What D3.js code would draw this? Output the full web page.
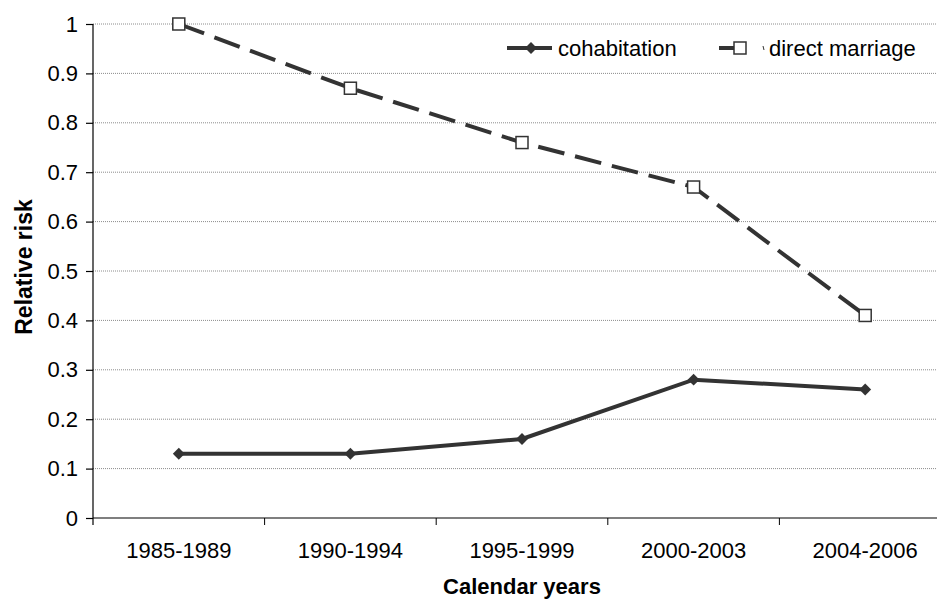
<!DOCTYPE html>
<html>
<head>
<meta charset="utf-8">
<script src="https://cdn.jsdelivr.net/npm/d3@7"></script>
<style>
  body { margin: 0; background: #fff; }
  text { font-family: "Liberation Sans", Arial, sans-serif; fill: #000; }
</style>
</head>
<body>
<script>
// data
const categories = ['1985-1989', '1990-1994', '1995-1999', '2000-2003', '2004-2006'];
const cohabitation = [0.13, 0.13, 0.16, 0.28, 0.26];
const directMarriage = [1, 0.87, 0.76, 0.67, 0.41];
const yTicks = [0, 0.1, 0.2, 0.3, 0.4, 0.5, 0.6, 0.7, 0.8, 0.9, 1];

const width = 937, height = 600;
const svg = d3.select('body').append('svg')
    .attr('width', width)
    .attr('height', height);

// plot area runs past the right edge of the picture, as in the reference
const plotLeft = 93, plotTop = 24, plotBottom = 518, plotRight = 951;

const x = d3.scaleBand().domain(categories).range([plotLeft, plotRight]);
const y = d3.scaleLinear().domain([0, 1]).range([plotBottom, plotTop]);
const cx = (d) => x(d) + x.bandwidth() / 2;

// gridlines
svg.append('g').selectAll('line').data(yTicks.filter(d => d > 0)).enter()
    .append('line')
    .attr('x1', plotLeft).attr('x2', plotRight)
    .attr('y1', d => y(d)).attr('y2', d => y(d))
    .attr('stroke', '#8c8c8c')
    .attr('stroke-width', 1)
    .attr('stroke-dasharray', '1,1');

// y axis
const yAxis = svg.append('g')
    .attr('transform', `translate(${plotLeft},0)`)
    .call(d3.axisLeft(y).tickValues(yTicks).tickFormat(d3.format('~g')).tickSize(7).tickPadding(8));
yAxis.select('.domain').attr('d', `M0,${plotTop}V${plotBottom + 7}`);

// x axis
const xAxis = svg.append('g')
    .attr('transform', `translate(0,${plotBottom})`)
    .call(d3.axisBottom(x).tickSize(0).tickPadding(24));
xAxis.select('.domain').attr('d', `M${plotLeft},0H${plotRight}`);
xAxis.selectAll('.bound').data(d3.range(1, categories.length)).enter()
    .append('line').attr('class', 'bound')
    .attr('x1', i => plotLeft + i * x.step()).attr('x2', i => plotLeft + i * x.step())
    .attr('y1', 0).attr('y2', 7)
    .attr('stroke', '#000');

svg.selectAll('.domain, .tick line').attr('stroke', '#000').attr('stroke-width', 1.2);
svg.selectAll('.tick text').attr('font-size', 22).attr('fill', '#000')
    .attr('font-family', '"Liberation Sans", Arial, sans-serif');

// axis titles
svg.append('text')
    .attr('x', cx(categories[2])).attr('y', 594)
    .attr('text-anchor', 'middle')
    .attr('font-size', 22).attr('font-weight', 'bold')
    .text('Calendar years');
svg.append('text')
    .attr('transform', `translate(32,${(plotTop + plotBottom) / 2 - 4}) rotate(-90)`)
    .attr('text-anchor', 'middle')
    .attr('font-size', 23).attr('font-weight', 'bold')
    .text('Relative risk');

// lines
const line = d3.line().x((d, i) => cx(categories[i])).y(d => y(d));
svg.append('path').datum(directMarriage)
    .attr('d', line).attr('fill', 'none')
    .attr('stroke', '#333').attr('stroke-width', 4)
    .attr('stroke-dasharray', '27,11');
svg.append('path').datum(cohabitation)
    .attr('d', line).attr('fill', 'none')
    .attr('stroke', '#333').attr('stroke-width', 4);

const diamond = d3.symbol().type(d3.symbolDiamond2).size(90);
svg.append('g').selectAll('path').data(cohabitation).enter()
    .append('path')
    .attr('d', diamond)
    .attr('transform', (d, i) => `translate(${cx(categories[i])},${y(d)})`)
    .attr('fill', '#333');
svg.append('g').selectAll('rect').data(directMarriage).enter()
    .append('rect')
    .attr('x', (d, i) => cx(categories[i]) - 6).attr('y', d => y(d) - 6)
    .attr('width', 12).attr('height', 12)
    .attr('fill', '#fff').attr('stroke', '#333').attr('stroke-width', 1.5);

// legend
const ly = 48;
const lg = svg.append('g');
lg.append('line').attr('x1', 507).attr('x2', 552).attr('y1', ly).attr('y2', ly)
    .attr('stroke', '#333').attr('stroke-width', 4);
lg.append('path').attr('d', diamond).attr('transform', `translate(531,${ly})`).attr('fill', '#333');
lg.append('text').attr('x', 558).attr('y', ly + 8).attr('font-size', 22).text('cohabitation');

lg.append('line').attr('x1', 719).attr('x2', 735).attr('y1', ly).attr('y2', ly)
    .attr('stroke', '#333').attr('stroke-width', 4);
lg.append('line').attr('x1', 763).attr('x2', 764).attr('y1', ly - 2).attr('y2', ly + 2)
    .attr('stroke', '#333').attr('stroke-width', 1);
lg.append('rect').attr('x', 734).attr('y', ly - 6).attr('width', 12).attr('height', 12)
    .attr('fill', '#fff').attr('stroke', '#333').attr('stroke-width', 1.5);
lg.append('text').attr('x', 769).attr('y', ly + 8).attr('font-size', 22).text('direct marriage');
</script>
</body>
</html>
